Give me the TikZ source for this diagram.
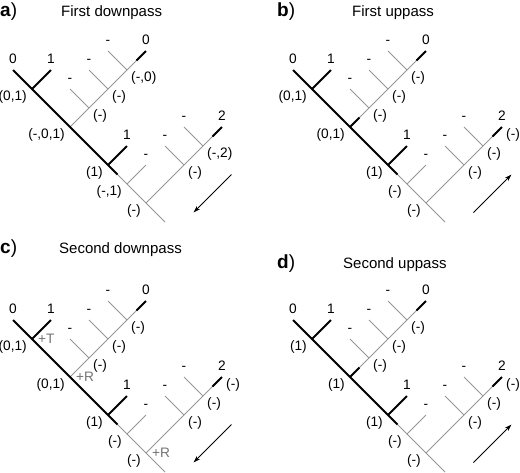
\documentclass[tikz,border=0pt]{standalone}
\usepackage{fontspec}
\setmainfont{Liberation Sans}
\usetikzlibrary{arrows.meta}
\definecolor{GapGray}{RGB}{150,150,150}
\definecolor{MarkGray}{RGB}{115,115,115}
\tikzset{
  gap/.style={draw=GapGray,line width=0.9pt},
  obs/.style={draw=black,line width=2pt},
  lab/.style={inner sep=0pt,font=\fontsize{13.7}{15}\selectfont},
  labr/.style={lab,anchor=west,xshift=4pt,yshift=-8pt},
  labl/.style={lab,anchor=east,xshift=-5pt,yshift=-7.5pt},
  leaf/.style={lab,anchor=base,yshift=7pt},
  gain/.style={lab,anchor=west,xshift=6pt,text=MarkGray},
  pass/.style={draw=black,line width=0.8pt,-{Stealth[length=7pt,width=4.5pt]}},
}
\tikzset{letter/.style={inner sep=0pt,anchor=base west,font=\fontsize{19}{21}\selectfont},
  heading/.style={inner sep=0pt,anchor=base west,font=\fontsize{15}{17}\selectfont}}

% the same tree in every panel, #1 = prefix of the names
\newcommand{\treeskel}[1]{%
  \coordinate (#1-t0) at (0,0);
  \coordinate (#1-n1) at (1,1);
  \coordinate (#1-t1) at (2,0);
  \coordinate (#1-n2) at (3,3);
  \coordinate (#1-u1) at (4,2);
  \coordinate (#1-u2) at (5,1);
  \coordinate (#1-u3) at (6,0);
  \coordinate (#1-tu) at (7,-1);
  \coordinate (#1-s1) at (3,1);
  \coordinate (#1-s2) at (4,0);
  \coordinate (#1-s3) at (5,-1);
  \coordinate (#1-n3) at (5,5);
  \coordinate (#1-t3) at (6,4);
  \coordinate (#1-n4) at (6,6);
  \coordinate (#1-s4) at (7,5);
  \coordinate (#1-n5) at (7,7);
  \coordinate (#1-r) at (8,8);
  \coordinate (#1-v1) at (9,5);
  \coordinate (#1-v2) at (10,4);
  \coordinate (#1-tv) at (11,3);
  \coordinate (#1-s5) at (8,4);
  \coordinate (#1-s6) at (9,3);
  \coordinate (#1-m2) at (3.5,2.5);
  \coordinate (#1-m3) at (5.5,5.5);
  \coordinate (#1-mu) at (6.5,-0.5);
  \coordinate (#1-mv) at (10.5,3.5);
  \draw[gap] (#1-n2) -- (#1-u1) -- (#1-u2) -- (#1-u3) -- (#1-tu);
  \draw[gap] (#1-u1) -- (#1-s1);
  \draw[gap] (#1-u2) -- (#1-s2);
  \draw[gap] (#1-u3) -- (#1-s3);
  \draw[gap] (#1-m3) -- (#1-n4) -- (#1-n5) -- (#1-r);
  \draw[gap] (#1-n4) -- (#1-s4);
  \draw[gap] (#1-n5) -- (#1-v1) -- (#1-v2) -- (#1-tv);
  \draw[gap] (#1-v1) -- (#1-s5);
  \draw[gap] (#1-v2) -- (#1-s6);
  \draw[obs] (#1-t0) -- (#1-n1) -- (#1-n2) -- (#1-n3) -- (#1-m3);
  \draw[obs] (#1-n1) -- (#1-t1);
  \draw[obs] (#1-n3) -- (#1-t3);
  \draw[obs] (#1-mu) -- (#1-tu);
  \draw[obs] (#1-mv) -- (#1-tv);
  \node[leaf] (#1-l0) at (#1-t0) {0};
  \node[leaf] (#1-l1) at (#1-t1) {1};
  \node[leaf] (#1-ls1) at (#1-s1) {-};
  \node[leaf] (#1-ls2) at (#1-s2) {-};
  \node[leaf] (#1-ls3) at (#1-s3) {-};
  \node[leaf] (#1-lu) at (#1-tu) {0};
  \node[leaf] (#1-l3) at (#1-t3) {1};
  \node[leaf] (#1-ls4) at (#1-s4) {-};
  \node[leaf] (#1-ls5) at (#1-s5) {-};
  \node[leaf] (#1-ls6) at (#1-s6) {-};
  \node[leaf] (#1-lv) at (#1-tv) {2};
  \coordinate (#1-p1) at (11.5,5.5);
  \coordinate (#1-p2) at (9.5,7.5);
}

\begin{document}
\begin{tikzpicture}[x=1pt,y=-1pt]
\useasboundingbox (0,0) rectangle (520,472);

% a) first downpass
\node[letter] (pa) at (0,16.7) {\textbf{a})};
\node[heading] (ha) at (61,16.7) {First downpass};
\begin{scope}[shift={(13pt,-70pt)},x=19pt,y=-19pt]
\treeskel{a}
\node[labl] (a-c1) at (a-n1) {(0,1)};
\node[labl] (a-c2) at (a-n2) {(-,0,1)};
\node[labl] (a-c3) at (a-n3) {(1)};
\node[labl] (a-c4) at (a-n4) {(-,1)};
\node[labl] (a-c5) at (a-n5) {(-)};
\node[labr] (a-cu1) at (a-u1) {(-)};
\node[labr] (a-cu2) at (a-u2) {(-)};
\node[labr] (a-cu3) at (a-u3) {(-,0)};
\node[labr] (a-cv1) at (a-v1) {(-)};
\node[labr] (a-cv2) at (a-v2) {(-,2)};
\draw[pass] (a-p1) -- (a-p2);
\end{scope}

% b) first uppass
\node[letter] (pb) at (277,16.7) {\textbf{b})};
\node[heading] (hb) at (352,16.7) {First uppass};
\begin{scope}[shift={(293pt,-70pt)},x=19pt,y=-19pt]
\treeskel{b}
\draw[obs] (b-n2) -- (b-m2);
\node[labl] (b-c1) at (b-n1) {(0,1)};
\node[labl] (b-c2) at (b-n2) {(0,1)};
\node[labl] (b-c3) at (b-n3) {(1)};
\node[labl] (b-c4) at (b-n4) {(-)};
\node[labl] (b-c5) at (b-n5) {(-)};
\node[labr] (b-cu1) at (b-u1) {(-)};
\node[labr] (b-cu2) at (b-u2) {(-)};
\node[labr] (b-cu3) at (b-u3) {(-)};
\node[labr] (b-cv1) at (b-v1) {(-)};
\node[labr] (b-cv2) at (b-v2) {(-)};
\node[labr] (b-cv3) at (b-tv) {(-)};
\draw[pass] (b-p2) -- (b-p1);
\end{scope}

% c) second downpass
\node[letter] (pc) at (0,253.5) {\textbf{c})};
\node[heading] (hc) at (59,253.5) {Second downpass};
\begin{scope}[shift={(13pt,-320pt)},x=19pt,y=-19pt]
\treeskel{c}
\node[labl] (c-c1) at (c-n1) {(0,1)};
\node[gain] (c-g1) at (c-n1) {+T};
\node[labl] (c-c2) at (c-n2) {(0,1)};
\node[gain] (c-g2) at (c-n2) {+R};
\node[labl] (c-c3) at (c-n3) {(1)};
\node[labl] (c-c4) at (c-n4) {(-)};
\node[labl] (c-c5) at (c-n5) {(-)};
\node[gain] (c-g5) at (c-n5) {+R};
\node[labr] (c-cu1) at (c-u1) {(-)};
\node[labr] (c-cu2) at (c-u2) {(-)};
\node[labr] (c-cu3) at (c-u3) {(-)};
\node[labr] (c-cv1) at (c-v1) {(-)};
\node[labr] (c-cv2) at (c-v2) {(-)};
\node[labr] (c-cv3) at (c-tv) {(-)};
\draw[pass] (c-p1) -- (c-p2);
\end{scope}

% d) second uppass
\node[letter] (pd) at (277,268) {\textbf{d})};
\node[heading] (hd) at (343,268) {Second uppass};
\begin{scope}[shift={(293pt,-320pt)},x=19pt,y=-19pt]
\treeskel{d}
\draw[obs] (d-n2) -- (d-m2);
\node[labl] (d-c1) at (d-n1) {(1)};
\node[labl] (d-c2) at (d-n2) {(1)};
\node[labl] (d-c3) at (d-n3) {(1)};
\node[labl] (d-c4) at (d-n4) {(-)};
\node[labl] (d-c5) at (d-n5) {(-)};
\node[labr] (d-cu1) at (d-u1) {(-)};
\node[labr] (d-cu2) at (d-u2) {(-)};
\node[labr] (d-cu3) at (d-u3) {(-)};
\node[labr] (d-cv1) at (d-v1) {(-)};
\node[labr] (d-cv2) at (d-v2) {(-)};
\node[labr] (d-cv3) at (d-tv) {(-)};
\draw[pass] (d-p2) -- (d-p1);
\end{scope}
\end{tikzpicture}
\end{document}
